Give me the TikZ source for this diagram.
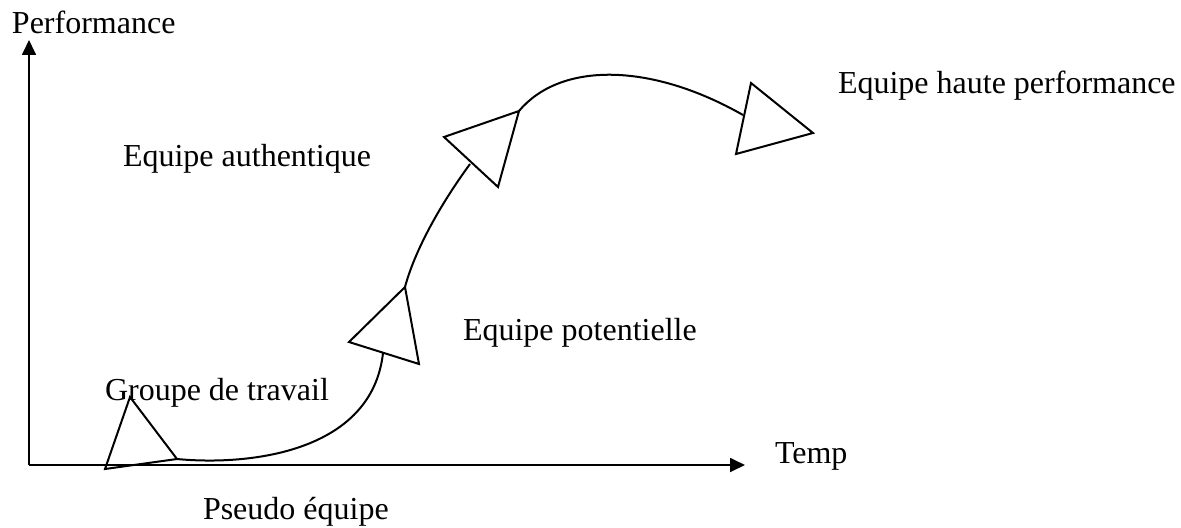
\documentclass[tikz,border=0pt]{standalone}
\usepackage{fontspec}
\setmainfont{Liberation Serif}
\usetikzlibrary{arrows.meta}

\tikzset{
  axis/.style={line width=0.75pt,-{Triangle[length=5.6pt,width=5.2pt]}},
  stage/.style={line width=0.75pt,line join=miter},
  lbl/.style={anchor=base west,inner sep=0pt,font=\fontsize{12}{14}\selectfont}
}

\begin{document}
\begin{tikzpicture}[x=0.375pt,y=-0.375pt,line width=0.75pt]

  \useasboundingbox (0,0) rectangle (1181,528);

  % --- axes ---
  \coordinate (o) at (29,465);
  \coordinate (xend) at (745,465);
  \coordinate (yend) at (29,40);
  \draw[axis] (o) -- (xend);
  \draw[axis] (o) -- (yend);

  % --- axis labels ---
  \node[lbl] (perf) at (11,33) {Performance};
  \node[lbl] (temp) at (774,463) {Temp};

  % --- stage triangles (corners in px) ---
  \foreach \ax/\ay/\bx/\by/\cx/\cy in {%
    130/397/105/469/177/459,
    405/287/349/342/419/364,
    444/137/519/111/498/187,
    751/83/813/133/736/154
  } {
    \draw[stage] (\ax,\ay) -- (\bx,\by) -- (\cx,\cy) -- cycle;
  }

  % --- growth curve between the triangles ---
  \coordinate (c1) at (177,459);
  \coordinate (c2) at (383,353);
  \coordinate (c3) at (405,287);
  \coordinate (c4) at (470,164);
  \coordinate (c5) at (519,111);
  \coordinate (c6) at (743,115);
  \draw (c1) .. controls (250,466) and (372,452) .. (c2);
  \draw (c3) .. controls (415,250) and (440,205) .. (c4);
  \draw (c5) .. controls (560,62) and (650,62) .. (c6);

  % --- stage names ---
  \node[lbl] (pseudo) at (202,519) {Pseudo équipe};
  \node[lbl] (travail) at (104,400) {Groupe de travail};
  \node[lbl] (potentielle) at (462,340) {Equipe potentielle};
  \node[lbl] (authentique) at (122,166) {Equipe authentique};
  \node[lbl] (hauteperf) at (837,93) {Equipe haute performance};

\end{tikzpicture}
\end{document}
